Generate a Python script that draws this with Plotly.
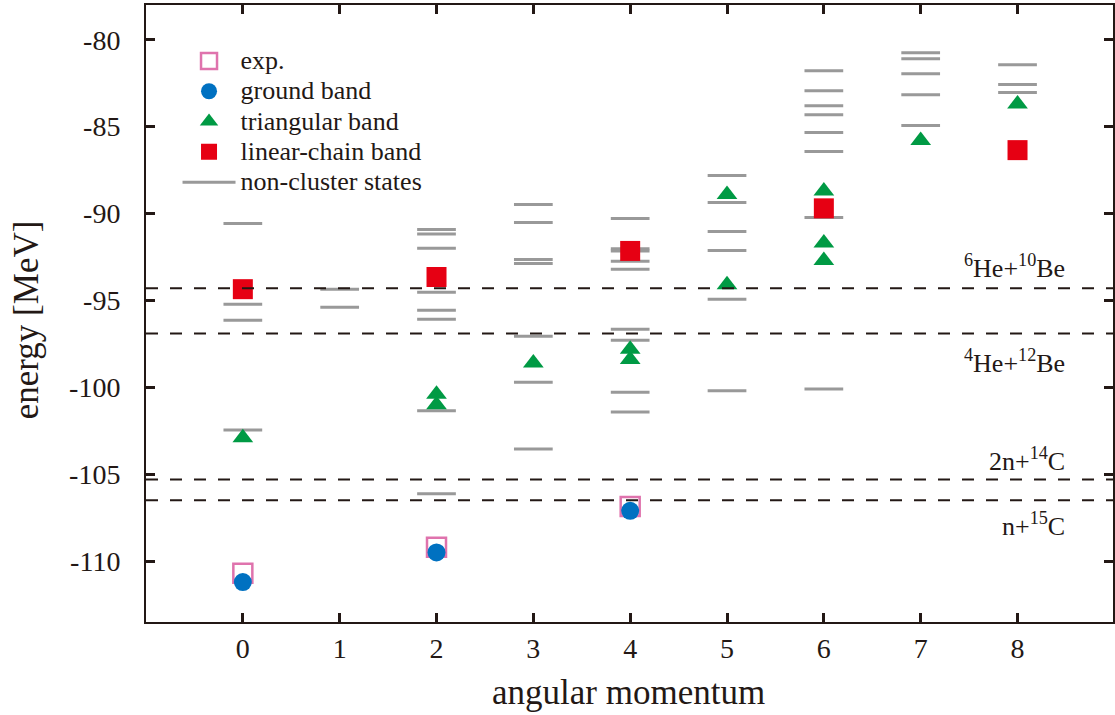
import plotly.graph_objects as go

# ---------------- data ----------------
exp_L = [0, 2, 4]
exp_E = [-110.7, -109.2, -106.85]

ground_L = [0, 2, 4]
ground_E = [-111.2, -109.5, -107.1]

tri_L = [0, 2, 2, 3, 4, 4, 5, 5, 6, 6, 6, 7, 8]
tri_E = [-102.9, -100.4, -101.0, -98.6, -97.8, -98.4, -88.9, -94.1,
         -88.7, -91.7, -92.7, -85.8, -83.7]

chain_L = [0, 2, 4, 6, 8]
chain_E = [-94.35, -93.65, -92.15, -89.7, -86.35]

nc_L = ([0] * 4 + [1] * 2 + [2] * 8 + [3] * 7 + [4] * 9 + [5] * 6 + [6] * 8
        + [7] * 5 + [8] * 3)
nc_E = [-90.57, -95.22, -96.14, -102.46,
        -94.36, -95.39,
        -90.91, -91.18, -92.0, -94.53, -95.57, -96.08, -101.35, -106.12,
        -89.48, -90.51, -92.64, -92.87, -97.06, -99.70, -103.55,
        -90.28, -92.03, -92.16, -92.75, -93.21, -96.66, -97.29, -100.28, -101.42,
        -87.81, -89.36, -91.03, -92.12, -94.93, -100.2,
        -81.78, -82.93, -83.79, -84.31, -85.34, -86.43, -90.22, -100.09,
        -80.75, -81.09, -81.95, -83.16, -84.94,
        -81.44, -82.58, -83.04]

thr_E = [-94.3, -96.9, -105.3, -106.5]
thr_labels = ["<sup>6</sup>He+<sup>10</sup>Be", "<sup>4</sup>He+<sup>12</sup>Be",
              "2n+<sup>14</sup>C", "n+<sup>15</sup>C"]
thr_shift = [22, -28, 20, -24]

x_ticks = [0, 1, 2, 3, 4, 5, 6, 7, 8]
y_ticks = [-110, -105, -100, -95, -90, -85, -80]
y_ticktext = ["-110", "-105", "-100", "-95", "-90", "-85", "-80"]

legend_names = ["exp.", "ground band", "triangular band", "linear-chain band",
                "non-cluster states"]

# ---------------- style ----------------
FONT = "Liberation Serif, Times New Roman, serif"
HALF = 0.2  # half width of level bars (x units)


def lname(s):
    return '<span style="font-size:26px">' + s + '</span>'


bar_x, bar_y = [], []
for L, E in zip(nc_L, nc_E):
    bar_x += [L - HALF, L + HALF, None]
    bar_y += [E, E, None]

fig = go.Figure()
fig.add_trace(go.Scatter(x=bar_x, y=bar_y, mode="lines", name=lname(legend_names[4]),
                         line=dict(color="#999999", width=3), legendrank=5))
fig.add_trace(go.Scatter(x=exp_L, y=exp_E, mode="markers", name=lname(legend_names[0]),
                         marker=dict(symbol="square-open", size=19, color="#df73ad",
                                     line=dict(width=2.5, color="#df73ad")),
                         legendrank=1))
fig.add_trace(go.Scatter(x=ground_L, y=ground_E, mode="markers", name=lname(legend_names[1]),
                         marker=dict(symbol="circle", size=18, color="#0071c1"),
                         legendrank=2))
fig.add_trace(go.Scatter(x=tri_L, y=tri_E, mode="markers", name=lname(legend_names[2]),
                         marker=dict(symbol="triangle-up", size=18, color="#009a44"),
                         legendrank=3))
fig.add_trace(go.Scatter(x=chain_L, y=chain_E, mode="markers", name=lname(legend_names[3]),
                         marker=dict(symbol="square", size=20, color="#e60013"),
                         legendrank=4))

for E, lab, sh in zip(thr_E, thr_labels, thr_shift):
    fig.add_shape(type="line", xref="paper", x0=0, x1=1, yref="y", y0=E, y1=E,
                  line=dict(color="#231815", width=2, dash="12px,12px"), layer="above")
    fig.add_annotation(x=0.9525, xref="paper", y=E, yref="y", text=lab,
                       xanchor="right", yanchor="middle", yshift=sh, showarrow=False,
                       font=dict(family=FONT, size=26, color="#231815"))

fig.add_annotation(x=0.4985, xref="paper", y=-0.115, yref="paper", text="angular momentum",
                   showarrow=False, xanchor="center", yanchor="middle",
                   font=dict(family=FONT, size=35, color="#231815"))
fig.add_annotation(x=-0.1228, xref="paper", y=0.4895, yref="paper", text="energy [MeV]",
                   showarrow=False, xanchor="center", yanchor="middle", textangle=-90,
                   font=dict(family=FONT, size=35, color="#231815"))

axis_common = dict(showgrid=False, zeroline=False, showline=True, linecolor="#231815",
                   linewidth=2, mirror="ticks", ticks="inside", ticklen=9, tickwidth=2.5,
                   tickcolor="#231815",
                   tickfont=dict(family=FONT, size=28, color="#231815"))

fig.update_xaxes(range=[-1, 8.986], tickvals=x_ticks, **axis_common)
fig.update_yaxes(range=[-113.5, -78], tickvals=y_ticks, ticktext=y_ticktext,
                 ticklabelstandoff=18, **axis_common)

fig.update_layout(
    width=1115, height=715,
    margin=dict(l=146, r=0, t=5, b=93),
    plot_bgcolor="white", paper_bgcolor="white",
    font=dict(family=FONT, color="#231815"),
    legend=dict(x=0.0326, y=0.942, xanchor="left", yanchor="top",
                bgcolor="rgba(0,0,0,0)", font=dict(family=FONT, size=21, color="#231815"),
                traceorder="normal", itemwidth=53),
)

fig.write_html("out.html")
